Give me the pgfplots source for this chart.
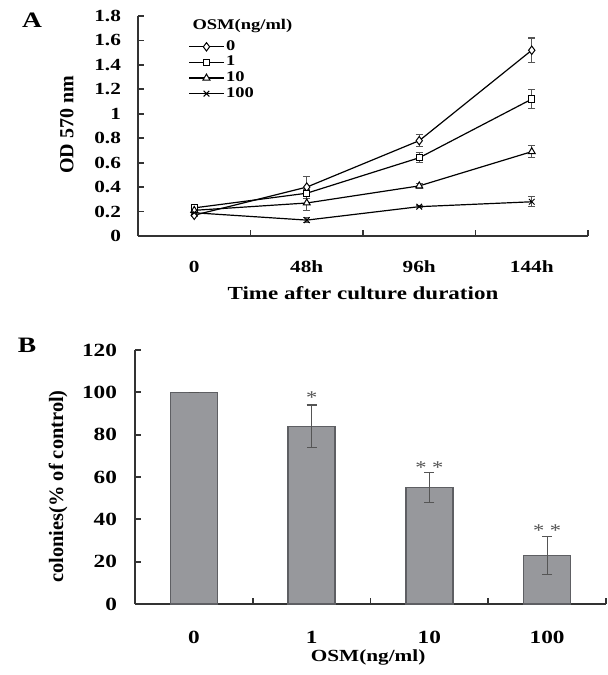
\documentclass[border=0pt]{standalone}
\usepackage{fontspec}
\setmainfont{Liberation Serif}[FakeStretch=1.25]
\newfontfamily\rotfont{Liberation Serif}
\usepackage{pgfplots}
\pgfplotsset{compat=1.18}
\definecolor{barfill}{HTML}{97989C}
\definecolor{bardraw}{HTML}{5E5F63}
\definecolor{axgray}{HTML}{333333}
\definecolor{errgray}{HTML}{555555}

\begin{document}
\begin{tikzpicture}
\useasboundingbox (0,0) rectangle (304pt,337.5pt);
\pgfplotsset{
  panel/.style={
    scale only axis,
    axis x line*=bottom, axis y line*=left,
    axis line style={-, axgray, line width=1pt},
    tick align=inside,
    xmin=-0.5, xmax=3.5,
    xtick={0,1,2,3}, minor xtick={0.5,1.5,2.5,3.5},
    major x tick style={draw=none},
    minor x tick style={axgray, line width=0.9pt},
    ytick style={axgray, line width=0.9pt},
    major tick length=3pt, minor tick length=3pt,
    /pgf/number format/assume math mode=true,
    clip=false,
  },
}

% ---------------- panel A ----------------
\begin{axis}[panel,
  at={(69pt,219.5pt)}, anchor=south west,
  width=225pt, height=110pt,
  ymin=0, ymax=1.8, ytick={0,0.2,...,1.8},
  xticklabels={0,48h,96h,144h},
  xticklabel style={font=\bfseries\fontsize{8.5}{10}\selectfont, yshift=-9pt},
  yticklabel style={font=\bfseries\fontsize{8.5}{10}\selectfont, xshift=-5pt},
  ylabel={\rotfont\bfseries OD 570 nm},
  ylabel style={at={(axis description cs:-0.158,0.505)}, anchor=center, font=\fontsize{10}{12}\selectfont},
  xlabel={Time after culture duration},
  xlabel style={at={(axis description cs:0.5,-0.259)}, anchor=center, font=\bfseries\fontsize{9.2}{11}\selectfont},
  legend style={at={(axis description cs:0.112,0.9)}, anchor=north west,
    draw=none, fill=none, font=\bfseries\fontsize{7.4}{8}\selectfont,
    inner sep=0pt, row sep=-0.6pt, nodes={inner sep=1pt}},
  legend cell align=left,
  legend image post style={black},
  every axis plot/.append style={black, line width=0.6pt,
    mark options={solid, fill=white, line width=0.5pt}},
  error bars/error bar style={errgray, line width=0.6pt},
  error bars/error mark options={rotate=90, mark size=1.8pt, errgray, line width=0.6pt},
]
\addplot[mark=diamond*, mark size=2.1pt,
  error bars/.cd, y dir=both, y explicit]
  coordinates {(0,0.17) +- (0,0.01) (1,0.40) +- (0,0.09) (2,0.78) +- (0,0.05) (3,1.52) +- (0,0.10)};
\addplot[mark=square*, mark size=1.6pt,
  error bars/.cd, y dir=both, y explicit]
  coordinates {(0,0.23) +- (0,0.02) (1,0.35) +- (0,0.03) (2,0.64) +- (0,0.04) (3,1.12) +- (0,0.08)};
\addplot[mark=triangle*, mark size=2pt,
  error bars/.cd, y dir=both, y explicit]
  coordinates {(0,0.21) +- (0,0.02) (1,0.27) +- (0,0.06) (2,0.41) +- (0,0.02) (3,0.69) +- (0,0.05)};
\addplot[mark=x, mark size=2pt,
  error bars/.cd, y dir=both, y explicit]
  coordinates {(0,0.19) +- (0,0.01) (1,0.13) +- (0,0.02) (2,0.24) +- (0,0.01) (3,0.28) +- (0,0.04)};
\legend{0,1,10,100}
\node[font=\bfseries\fontsize{7.4}{8}\selectfont, anchor=center]
  at (axis description cs:0.232,0.955) {OSM(ng/ml)};
\end{axis}

% ---------------- panel B ----------------
\begin{axis}[panel,
  at={(67.5pt,35.5pt)}, anchor=south west,
  width=235.5pt, height=127pt,
  ymin=0, ymax=120, ytick={0,20,...,120},
  xticklabels={0,1,10,100},
  xticklabel style={font=\bfseries\fontsize{9.3}{11}\selectfont, yshift=-10pt},
  yticklabel style={font=\bfseries\fontsize{9.3}{11}\selectfont, xshift=-5.5pt},
  ylabel={\rotfont\bfseries colonies(\% of control)},
  ylabel style={at={(axis description cs:-0.163,0.463)}, anchor=center, font=\fontsize{10.2}{12}\selectfont},
  xlabel={OSM(ng/ml)},
  xlabel style={at={(axis description cs:0.495,-0.209)}, anchor=center, font=\bfseries\fontsize{8.5}{10}\selectfont},
]
\addplot[ybar, bar width=23.5pt, fill=barfill, draw=bardraw, line width=0.7pt,
  error bars/.cd, y dir=both, y explicit,
  error bar style={errgray, line width=0.6pt},
  error mark options={rotate=90, mark size=2.5pt, errgray, line width=0.6pt}]
  coordinates {(0,100) +- (0,0) (1,84) +- (0,10) (2,55) +- (0,7) (3,23) +- (0,9)};
\node[font=\fontsize{9}{10}\selectfont, text=errgray] at (axis cs:1,97.5) {*};
\node[font=\fontsize{9}{10}\selectfont, text=errgray] at (axis cs:2,64.5) {* *};
\node[font=\fontsize{9}{10}\selectfont, text=errgray] at (axis cs:3,34.7) {* *};
\end{axis}

\node[font=\bfseries\fontsize{11}{12}\selectfont] at (16pt,327.5pt) {A};
\node[font=\bfseries\fontsize{11}{12}\selectfont] at (13.5pt,165pt) {B};
\end{tikzpicture}
\end{document}
